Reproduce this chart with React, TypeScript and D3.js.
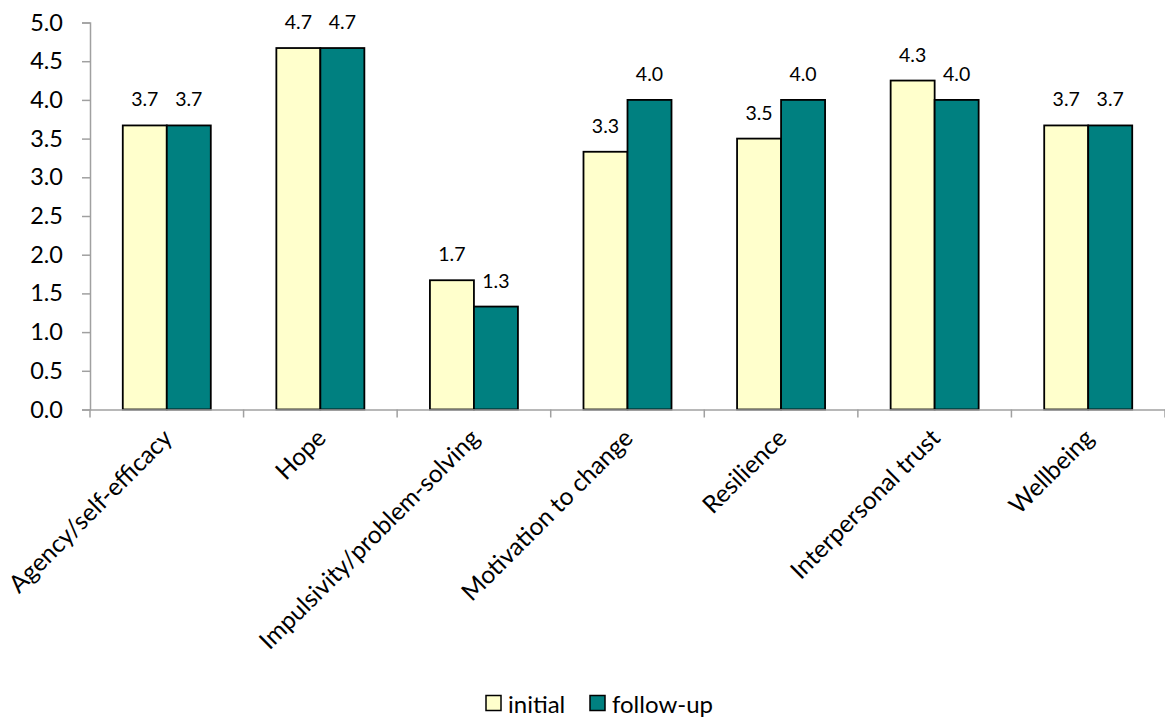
import React, { useRef, useEffect } from 'react';
import * as d3 from 'd3';

const categories = [
  'Agency/self-efficacy',
  'Hope',
  'Impulsivity/problem-solving',
  'Motivation to change',
  'Resilience',
  'Interpersonal trust',
  'Wellbeing',
];
const seriesNames = ['initial', 'follow-up'];
const initial = [3.67, 4.67, 1.67, 3.33, 3.5, 4.25, 3.67];
const followUp = [3.67, 4.67, 1.33, 4.0, 4.0, 4.0, 3.67];
const yTicks = [0, 0.5, 1, 1.5, 2, 2.5, 3, 3.5, 4, 4.5, 5];
const colors = ['#FFFFCC', '#008080'];

const width = 1165;
const height = 720;
const font = 'Lato, Carlito, Calibri, sans-serif';

export default function App() {
  const ref = useRef<SVGSVGElement>(null);

  useEffect(() => {
    const svg = d3.select(ref.current);
    svg.selectAll('*').remove();

    const margin = { top: 22.5, right: 0, bottom: 310.5, left: 90 };

    const x = d3.scaleBand()
      .domain(categories)
      .range([margin.left, width - margin.right])
      .paddingInner(0)
      .paddingOuter(0);

    const x1 = d3.scaleBand()
      .domain(seriesNames)
      .range([0, x.bandwidth()])
      .paddingInner(0)
      .paddingOuter(0.745);

    const y = d3.scaleLinear()
      .domain([0, 5])
      .range([height - margin.bottom, margin.top]);

    const data = categories.map((c, i) => ({
      cat: c,
      vals: [
        { s: seriesNames[0], v: initial[i], color: colors[0] },
        { s: seriesNames[1], v: followUp[i], color: colors[1] },
      ],
    }));

    // y axis
    const yAxis = svg.append('g')
      .attr('transform', `translate(${margin.left},0)`)
      .call(d3.axisLeft(y).tickValues(yTicks).tickSize(8).tickPadding(19).tickFormat(d3.format('.1f')));
    yAxis.select('.domain').attr('stroke', '#a0a0a0').attr('stroke-width', 1.5);
    yAxis.selectAll('.tick line').attr('stroke', '#a0a0a0').attr('stroke-width', 1.5);
    yAxis.selectAll('.tick text')
      .attr('font-family', font).attr('font-size', 23.5).attr('fill', '#000');

    // groups
    const groups = svg.append('g')
      .selectAll('g')
      .data(data)
      .join('g')
      .attr('transform', d => `translate(${x(d.cat)},0)`);

    groups.selectAll('rect')
      .data(d => d.vals)
      .join('rect')
      .attr('x', d => x1(d.s)!)
      .attr('y', d => y(d.v))
      .attr('width', x1.bandwidth())
      .attr('height', d => y(0) - y(d.v))
      .attr('fill', d => d.color)
      .attr('stroke', '#000')
      .attr('stroke-width', 1.8);

    groups.selectAll('text')
      .data(d => d.vals)
      .join('text')
      .attr('x', d => x1(d.s)! + x1.bandwidth() / 2)
      .attr('y', d => y(d.v) - 19)
      .attr('text-anchor', 'middle')
      .attr('font-family', font)
      .attr('font-size', 19.5)
      .attr('fill', '#000')
      .text(d => d3.format('.1f')(d.v));

    // x axis
    const xAxis = svg.append('g')
      .attr('transform', `translate(0,${y(0)})`)
      .call(d3.axisBottom(x).tickSize(0).tickFormat(() => ''));
    xAxis.select('.domain').attr('stroke', '#a0a0a0').attr('stroke-width', 1.5);

    svg.append('g')
      .selectAll('line')
      .data(d3.range(categories.length + 1))
      .join('line')
      .attr('x1', i => margin.left + i * x.bandwidth())
      .attr('x2', i => margin.left + i * x.bandwidth())
      .attr('y1', y(0))
      .attr('y2', y(0) + 8)
      .attr('stroke', '#a0a0a0')
      .attr('stroke-width', 1.5);

    svg.append('g')
      .selectAll('text')
      .data(categories)
      .join('text')
      .attr('transform', d => `translate(${x(d)! + x.bandwidth() / 2 + 7},${y(0) + 30}) rotate(-45)`)
      .attr('text-anchor', 'end')
      .attr('font-family', font)
      .attr('font-size', 24.5)
      .attr('fill', '#000')
      .text(d => d);

    // legend
    const legend = svg.append('g').attr('transform', `translate(486,${height - 17})`);
    const items = [
      { name: seriesNames[0], color: colors[0], x: 0 },
      { name: seriesNames[1], color: colors[1], x: 104 },
    ];
    items.forEach(it => {
      legend.append('rect')
        .attr('x', it.x).attr('y', -7.5)
        .attr('width', 15).attr('height', 15)
        .attr('fill', it.color).attr('stroke', '#000').attr('stroke-width', 1.5);
      legend.append('text')
        .attr('x', it.x + 22).attr('y', 0)
        .attr('dominant-baseline', 'central')
        .attr('font-family', font).attr('font-size', 24)
        .attr('fill', '#000')
        .text(it.name);
    });
  }, []);

  return (
    <svg ref={ref} width={width} height={height} style={{ position: 'absolute', left: 0, top: 0 }}></svg>
  );
}
